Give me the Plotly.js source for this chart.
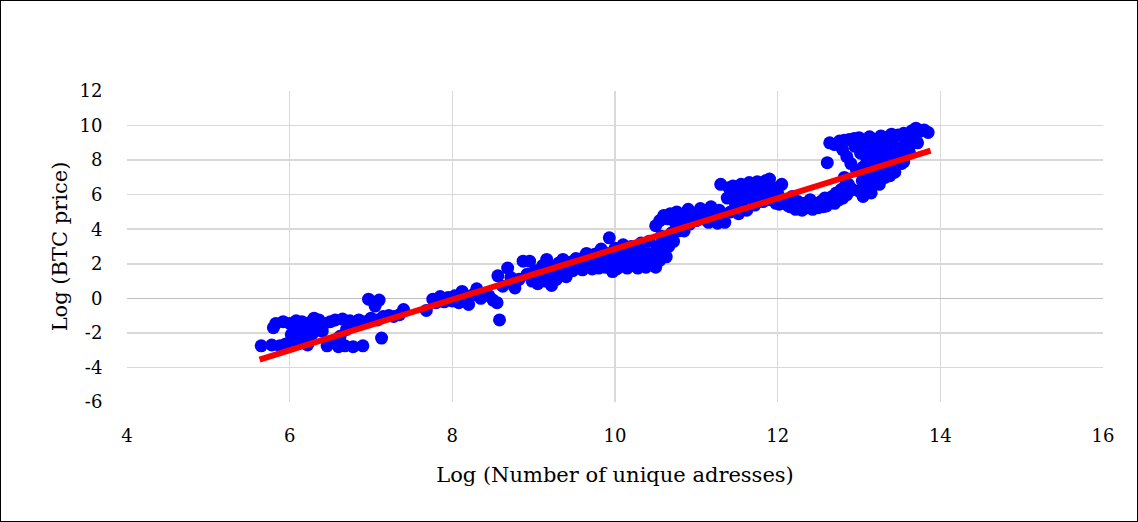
<!DOCTYPE html>
<html>
<head>
<meta charset="utf-8">
<script src="https://cdn.plot.ly/plotly-3.0.1.min.js"></script>
<style>
  body { margin: 0; background: #fff; }
  #chart { width: 1138px; height: 522px; }
  #frame { position: absolute; left: 0; top: 0; width: 1136px; height: 520px; border: 1px solid #000; pointer-events: none; }
</style>
</head>
<body>
<div id="chart"></div>
<div id="frame"></div>
<script>
// points, log(addresses) vs log(price)
var addrLog = [
  // left cluster
  5.65, 5.78, 5.80, 5.83, 5.88, 5.92, 5.95, 6.00, 6.02, 6.05, 6.08, 6.10, 6.12, 6.15, 6.18, 6.20, 6.22, 6.25, 6.28, 6.30,
  6.33, 6.36, 6.40, 6.43, 6.46, 6.50, 6.53, 6.56, 6.60, 6.62, 6.65, 6.68, 6.70, 6.74, 6.78, 6.80, 6.85, 6.90, 6.93, 6.97,
  7.00, 7.05, 7.08, 7.10, 7.13, 7.15, 7.22, 7.28, 7.35, 7.40,
  // around zero
  7.68, 7.76, 7.80, 7.85, 7.90, 7.95, 8.00, 8.03, 8.08, 8.12, 8.15, 8.20, 8.25, 8.30, 8.35, 8.45, 8.50, 8.55, 8.56, 8.58,
  8.62, 8.68, 8.72, 8.77, 8.82,
  // band 9-10
  8.87, 8.92, 8.95, 8.98, 9.02, 9.05, 9.08, 9.11, 9.14, 9.16, 9.19, 9.22, 9.25, 9.28, 9.31, 9.34, 9.36, 9.40, 9.43, 9.46,
  9.48, 9.52, 9.55, 9.58, 9.60, 9.63, 9.65, 9.68, 9.70, 9.72, 9.75, 9.78, 9.80, 9.83, 9.85, 9.88, 9.90, 9.93, 9.95, 9.97,
  10.00, 10.02, 10.05,
  // band 10-10.6
  10.05, 10.08, 10.10, 10.12, 10.15, 10.18, 10.20, 10.22, 10.25, 10.28, 10.30, 10.32, 10.35, 10.38, 10.40, 10.42, 10.45,
  10.48, 10.50, 10.52, 10.55, 10.57, 10.58,
  // step up
  10.50, 10.55, 10.60, 10.62, 10.63, 10.65, 10.66, 10.68, 10.70, 10.72, 10.74, 10.76, 10.78, 10.80, 10.82, 10.85, 10.87,
  10.90, 10.92, 10.95,
  // 11 - 11.3
  11.00, 11.05, 11.08, 11.12, 11.15, 11.18, 11.22, 11.26, 11.30, 11.28,
  // plateau
  11.35, 11.38, 11.40, 11.42, 11.45, 11.48, 11.50, 11.52, 11.55, 11.58, 11.60, 11.62, 11.65, 11.68, 11.70, 11.72, 11.75,
  11.78, 11.80, 11.82, 11.85, 11.88, 11.90, 11.92, 11.95, 11.98, 12.00, 12.02, 12.05, 12.08, 12.12,
  // low band 12-13
  12.15, 12.18, 12.22, 12.25, 12.30, 12.33, 12.37, 12.40, 12.43, 12.46, 12.50, 12.53, 12.56, 12.58, 12.60, 12.61, 12.64,
  12.67, 12.70, 12.72, 12.75, 12.78, 12.80, 12.83, 12.85, 12.88,
  // top shelf
  12.64, 12.70, 12.76, 12.82, 12.88, 12.94,
  // right cluster
  12.80, 12.82, 12.85, 12.87, 12.90, 12.92, 12.95, 12.97, 13.00, 13.00, 13.02, 13.04, 13.05, 13.07, 13.08, 13.10, 13.12,
  13.13, 13.15, 13.16, 13.18, 13.20, 13.22, 13.23, 13.25, 13.27, 13.28, 13.30, 13.32, 13.33, 13.35, 13.37, 13.40, 13.42,
  13.44, 13.45, 13.48, 13.50, 13.52, 13.55, 13.57, 13.58, 13.60, 13.62, 13.65, 13.68, 13.70, 13.74, 13.80, 13.85,
  13.05, 13.15, 13.25, 13.38, 13.55, 13.62, 13.72
];
var priceLog = [
  -2.75, -2.70, -1.70, -1.45, -2.75, -1.35, -2.65, -1.45, -2.10, -2.45, -1.30, -1.90, -2.35, -1.35, -2.20, -1.60, -2.70, -1.40, -2.05, -1.15,
  -1.85, -1.25, -1.90, -1.45, -2.75, -1.35, -2.50, -1.25, -2.80, -2.20, -1.20, -2.75, -1.80, -1.30, -2.80, -1.40, -1.25, -2.75, -1.35, -0.05,
  -1.15, -0.45, -1.25, -0.10, -2.30, -1.05, -1.00, -1.05, -0.95, -0.65,
  -0.70, -0.05, -0.25, 0.10, -0.20, 0.05, -0.15, 0.15, -0.25, 0.40, -0.05, -0.35, 0.20, 0.55, 0.00, 0.15, -0.10, -0.25, 1.30, -1.25,
  0.70, 1.75, 1.20, 0.60, 1.10,
  2.15, 1.40, 2.15, 1.00, 1.60, 0.85, 1.25, 1.90, 1.00, 2.25, 1.45, 0.75, 1.80, 1.10, 2.05, 1.50, 2.25, 1.25, 1.85, 2.10,
  1.60, 2.30, 1.80, 2.05, 1.65, 2.45, 2.60, 1.85, 2.20, 1.70, 2.55, 2.00, 1.75, 2.85, 2.30, 1.80, 2.60, 3.50, 2.10, 1.55,
  2.90, 1.70, 2.40,
  1.80, 2.70, 3.10, 2.00, 1.75, 2.50, 3.00, 1.90, 2.30, 1.75, 2.80, 3.20, 2.10, 1.80, 2.60, 3.30, 1.95,
  2.40, 1.80, 3.00, 2.20, 3.60, 2.70,
  4.20, 4.50, 4.80, 3.40, 2.40, 4.60, 3.00, 4.90, 3.80, 3.30, 4.40, 5.00, 3.90, 4.60, 4.20, 3.90, 4.80,
  5.15, 4.30, 4.80,
  4.50, 5.20, 4.60, 5.00, 4.40, 5.30, 4.70, 4.35, 6.60, 5.10,
  4.40, 5.80, 6.40, 5.00, 6.50, 5.50, 6.10, 4.90, 6.60, 5.70, 6.20, 5.10, 6.70, 5.90, 6.40, 5.40, 6.75,
  6.00, 6.50, 5.60, 6.80, 6.20, 6.90, 5.70, 6.40, 5.50, 6.10, 5.45, 6.60, 5.60, 5.40,
  5.30, 5.90, 5.15, 5.60, 5.10, 5.50, 5.25, 5.70, 5.15, 5.45, 5.25, 5.60, 5.30, 5.80, 5.35, 7.85, 5.60,
  5.90, 5.50, 6.10, 5.70, 6.30, 5.80, 6.50, 6.00, 6.20,
  9.00, 8.90, 9.10, 9.15, 9.20, 9.25,
  8.60, 7.00, 8.20, 6.60, 7.80, 6.30, 8.80, 7.40, 9.30, 6.20, 8.40, 6.80, 7.60, 9.00, 6.40, 8.00, 7.20,
  9.35, 6.60, 8.60, 7.70, 9.20, 6.90, 8.20, 7.40, 9.40, 8.70, 7.90, 7.00, 9.30, 8.40, 7.60, 9.50, 8.90,
  7.30, 8.10, 9.45, 8.60, 7.80, 9.55, 9.00, 8.30, 9.40, 8.80, 9.70, 9.20, 9.85, 9.65, 9.75, 9.60,
  5.90, 6.10, 6.60, 7.10, 7.90, 8.40, 9.00
];

// linear trend line
var trendX = [5.63, 13.88];
var trendSlope = 1.467;
var trendIntercept = -11.81;
var trendY = trendX.map(function (x) { return trendSlope * x + trendIntercept; });

var xTicks = [4, 6, 8, 10, 12, 14, 16];
var yTicks = [-6, -4, -2, 0, 2, 4, 6, 8, 10, 12];

var fontFamily = '"DejaVu Serif", "Liberation Serif", serif';

var data = [
  {
    x: addrLog,
    y: priceLog,
    type: 'scatter',
    mode: 'markers',
    marker: { color: '#0000ff', size: 13 },
    name: 'data',
    hoverinfo: 'x+y'
  },
  {
    x: trendX,
    y: trendY,
    type: 'scatter',
    mode: 'lines',
    line: { color: '#ff0000', width: 6 },
    name: 'trend'
  }
];

var layout = {
  width: 1138,
  height: 522,
  margin: { l: 127, r: 35, t: 91, b: 120 },
  paper_bgcolor: '#fff',
  plot_bgcolor: '#fff',
  showlegend: false,
  font: { family: fontFamily, size: 18, color: '#000' },
  xaxis: {
    range: [4, 16],
    tickvals: xTicks,
    ticktext: xTicks.map(String),
    showgrid: true,
    gridcolor: '#d9d9d9',
    gridwidth: 1.5,
    zeroline: false,
    showline: false,
    ticks: 'outside',
    ticklen: 17,
    tickcolor: 'rgba(0,0,0,0)',
    tickfont: { family: fontFamily, size: 18 },
    title: { text: 'Log (Number of unique adresses)', font: { family: fontFamily, size: 21 }, standoff: 22 },
    automargin: false
  },
  yaxis: {
    range: [-6, 12],
    tickvals: yTicks,
    ticktext: yTicks.map(String),
    showgrid: true,
    gridcolor: '#d9d9d9',
    gridwidth: 1.5,
    zeroline: true,
    zerolinecolor: '#bfbfbf',
    zerolinewidth: 1.5,
    showline: false,
    ticks: 'outside',
    ticklen: 20,
    tickcolor: 'rgba(0,0,0,0)',
    tickfont: { family: fontFamily, size: 18 },
    title: { text: 'Log (BTC price)', font: { family: fontFamily, size: 21 }, standoff: 6 },
    automargin: false
  }
};

Plotly.newPlot('chart', data, layout, { displayModeBar: false, staticPlot: true });
</script>
</body>
</html>
